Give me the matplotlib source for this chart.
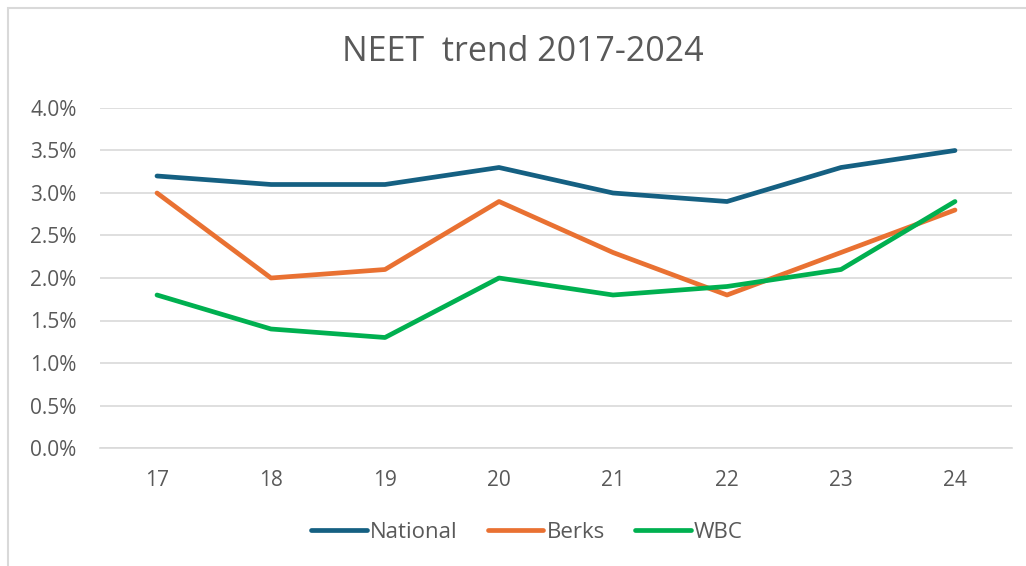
import matplotlib.pyplot as plt
from matplotlib.patches import Rectangle
from matplotlib.ticker import PercentFormatter

years = ['17', '18', '19', '20', '21', '22', '23', '24']
national = [3.2, 3.1, 3.1, 3.3, 3.0, 2.9, 3.3, 3.5]
berks = [3.0, 2.0, 2.1, 2.9, 2.3, 1.8, 2.3, 2.8]
wbc = [1.8, 1.4, 1.3, 2.0, 1.8, 1.9, 2.1, 2.9]

plt.rcParams['font.family'] = ['Open Sans', 'DejaVu Sans']
txt = '#595959'

W, H = 1026, 566
fig = plt.figure(figsize=(W / 100, H / 100), dpi=100)
ax = fig.add_axes([100 / W, (H - 448) / H, 912 / W, 340 / H])

# chart border
fig.patches.append(Rectangle((8 / W, -0.1), 1.2, (H - 8) / H + 0.1,
                             transform=fig.transFigure, fill=False,
                             edgecolor='#d9d9d9', linewidth=1.5))

x = range(len(years))
ax.plot(x, [v / 100 for v in national], color='#156082', lw=3.4,
        solid_capstyle='round', solid_joinstyle='round', label='National')
ax.plot(x, [v / 100 for v in berks], color='#E97132', lw=3.4,
        solid_capstyle='round', solid_joinstyle='round', label='Berks')
ax.plot(x, [v / 100 for v in wbc], color='#00B050', lw=3.4,
        solid_capstyle='round', solid_joinstyle='round', label='WBC')

ax.set_xlim(-0.5, 7.5)
ax.set_ylim(0, 0.04)
ax.set_yticks([i * 0.005 for i in range(9)])
ax.yaxis.set_major_formatter(PercentFormatter(1.0, decimals=1))
ax.set_xticks(list(x))
ax.set_xticklabels(years)
ax.grid(axis='y', color='#d9d9d9', lw=1.2)
ax.set_axisbelow(True)
for s in ['top', 'right', 'left']:
    ax.spines[s].set_visible(False)
ax.spines['bottom'].set_color('#d9d9d9')
ax.spines['bottom'].set_linewidth(1.2)
ax.tick_params(length=0, labelsize=15, colors=txt, pad=16)
ax.tick_params(axis='y', pad=17)

fig.text(523 / W, (H - 52) / H, 'NEET  trend 2017-2024', ha='center', va='center',
         fontsize=24.5, color=txt)

fig.legend(loc='center', bbox_to_anchor=(527 / W, (H - 532) / H), ncol=3,
           frameon=False, fontsize=16, labelcolor=txt, handlelength=2.5,
           handletextpad=0.15, columnspacing=1.35)

fig.savefig('out.png', dpi=100)
